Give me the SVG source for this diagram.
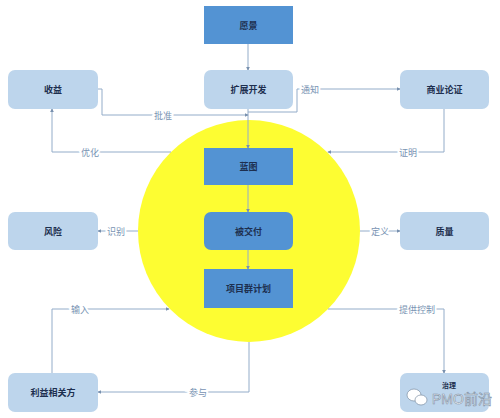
<svg xmlns="http://www.w3.org/2000/svg" width="500" height="418" viewBox="0 0 500 418">
<style>
.dark{fill:#5393d3;}
.light{fill:#bdd5ec;}
.nt{font-family:"Noto Sans CJK SC","Noto Sans",sans-serif;font-size:9px;font-weight:bold;fill:#1d2f4f;text-anchor:middle;dominant-baseline:central;}
.ln{fill:none;stroke:#93acc9;stroke-width:1;}
.lb{font-family:"Noto Sans CJK SC","Noto Sans",sans-serif;font-size:9px;fill:#7893b3;text-anchor:middle;dominant-baseline:central;paint-order:stroke;stroke:#ffffff;stroke-width:4px;}
.wm{font-family:"Liberation Sans","Noto Sans CJK SC",sans-serif;font-size:14px;fill:#ffffff;stroke:#7d8fa3;stroke-width:0.6px;}
</style>
<defs>
<marker id="ah" viewBox="0 0 6 6" refX="5" refY="3" markerWidth="4" markerHeight="4" orient="auto">
<path d="M0,0 L6,3 L0,6 z" fill="#7890ae"/>
</marker>
</defs>
<rect width="500" height="418" fill="#ffffff"/>
<circle id="circle" cx="249" cy="231" r="111" fill="#fdfd32"/>
<g id="connectors">
<path class="ln" d="M248,44 V70" marker-end="url(#ah)"/>
<path class="ln" d="M248,109 V148" marker-end="url(#ah)"/>
<path class="ln" d="M98,89 H102 V115 H248" marker-end="url(#ah)"/>
<path class="ln" d="M171,152 H52 V109" marker-end="url(#ah)"/>
<path class="ln" d="M248,112 H297 V89 H400" marker-end="url(#ah)"/>
<path class="ln" d="M444,109 V152 H328" marker-end="url(#ah)"/>
<path class="ln" d="M248,185 V212" marker-end="url(#ah)"/>
<path class="ln" d="M248,250 V269" marker-end="url(#ah)"/>
<path class="ln" d="M138,231 H98" marker-end="url(#ah)"/>
<path class="ln" d="M360,231 H400" marker-end="url(#ah)"/>
<path class="ln" d="M52,373 V309 H169" marker-end="url(#ah)"/>
<path class="ln" d="M328,309 H444 V373" marker-end="url(#ah)"/>
<path class="ln" d="M249,342 V392 H98" marker-end="url(#ah)"/>
<text class="lb" x="163" y="115">批准</text>
<text class="lb" x="90" y="152">优化</text>
<text class="lb" x="310" y="89">通知</text>
<text class="lb" x="408" y="152">证明</text>
<text class="lb" x="116" y="231">识别</text>
<text class="lb" x="380" y="231">定义</text>
<text class="lb" x="80" y="309">输入</text>
<text class="lb" x="417" y="309">提供控制</text>
<text class="lb" x="198" y="392">参与</text>
</g>
<g id="n-vision"><rect class="dark" x="204" y="6" width="89" height="38"/><text class="nt" x="248.5" y="25">愿景</text></g>
<g id="n-expand"><rect class="light" x="204" y="70" width="89" height="39" rx="7"/><text class="nt" x="248.5" y="89.5">扩展开发</text></g>
<g id="n-benefit"><rect class="light" x="8" y="70" width="90" height="39" rx="7"/><text class="nt" x="53" y="89.5">收益</text></g>
<g id="n-business"><rect class="light" x="400" y="70" width="89" height="39" rx="7"/><text class="nt" x="444.5" y="89.5">商业论证</text></g>
<g id="n-blueprint"><rect class="dark" x="204" y="148" width="89" height="37"/><text class="nt" x="248.5" y="166.5">蓝图</text></g>
<g id="n-delivered"><rect class="dark" x="204" y="212" width="89" height="38" rx="7"/><text class="nt" x="248.5" y="231">被交付</text></g>
<g id="n-plan"><rect class="dark" x="204" y="269" width="89" height="39"/><text class="nt" x="248.5" y="288.5">项目群计划</text></g>
<g id="n-risk"><rect class="light" x="8" y="212" width="90" height="38" rx="7"/><text class="nt" x="53" y="231">风险</text></g>
<g id="n-quality"><rect class="light" x="400" y="212" width="89" height="38" rx="7"/><text class="nt" x="444.5" y="231">质量</text></g>
<g id="n-stakeholder"><rect class="light" x="8" y="373" width="90" height="39" rx="7"/><text class="nt" x="53" y="392.5">利益相关方</text></g>
<g id="n-governance"><rect class="light" x="400" y="373" width="89" height="39" rx="7"/><text class="nt" x="449" y="385" style="font-size:7px">治理</text>
<g id="watermark">
<ellipse cx="414" cy="395" rx="7" ry="6" fill="#ffffff" stroke="#7d8fa3" stroke-width="0.7"/>
<ellipse cx="421" cy="400" rx="6" ry="5" fill="#ffffff" stroke="#7d8fa3" stroke-width="0.7"/>
<text class="wm" x="432" y="404">PMO前沿</text>
</g>
</g>
</svg>
